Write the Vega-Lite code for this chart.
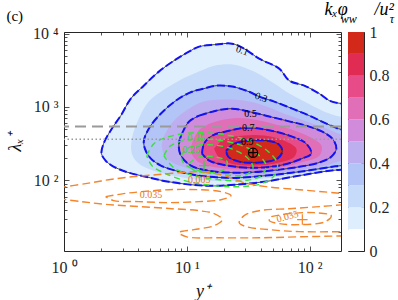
{
"$schema":"https://vega.github.io/schema/vega-lite/v6.json",
"autosize":{"type":"pad"},
"padding":{"left":5,"top":0,"right":0,"bottom":0},
"config":{"font":"Liberation Serif","view":{"stroke":"#262626","strokeWidth":1},
 "axis":{"labelFont":"Liberation Serif","titleFont":"Liberation Serif","labelColor":"#262626","titleColor":"#111","tickColor":"#262626","tickWidth":0.8,"domain":false,"grid":false,"labelFontSize":16,"titleFontWeight":"normal","titleFontStyle":"italic"}},
"datasets":{
"fills":[
{"lv":0.1,"i":0,"x":255,"y":1110},{"lv":0.1,"i":1,"x":185,"y":1110},{"lv":0.1,"i":2,"x":145,"y":1220},{"lv":0.1,"i":3,"x":120,"y":1520},{"lv":0.1,"i":4,"x":90.5,"y":1950},{"lv":0.1,"i":5,"x":68.3,"y":2280},{"lv":0.1,"i":6,"x":56.5,"y":3330},{"lv":0.1,"i":7,"x":38.8,"y":4550},{"lv":0.1,"i":8,"x":29.3,"y":6220},{"lv":0.1,"i":9,"x":23.4,"y":7280},{"lv":0.1,"i":10,"x":16.7,"y":7060},{"lv":0.1,"i":11,"x":12.6,"y":6630},{"lv":0.1,"i":12,"x":10.4,"y":5670},{"lv":0.1,"i":13,"x":7.85,"y":4270},{"lv":0.1,"i":14,"x":5.92,"y":3030},{"lv":0.1,"i":15,"x":4.46,"y":1950},{"lv":0.1,"i":16,"x":3.5,"y":1300},{"lv":0.1,"i":17,"x":2.9,"y":761},{"lv":0.1,"i":18,"x":2.45,"y":506},{"lv":0.1,"i":19,"x":2.1,"y":316},{"lv":0.1,"i":20,"x":2.02,"y":231},{"lv":0.1,"i":21,"x":2.18,"y":186},{"lv":0.1,"i":22,"x":2.45,"y":159},{"lv":0.1,"i":23,"x":3.18,"y":131},{"lv":0.1,"i":24,"x":4.63,"y":112},{"lv":0.1,"i":25,"x":7.14,"y":95.6},{"lv":0.1,"i":26,"x":13.8,"y":84.6},{"lv":0.1,"i":27,"x":24.3,"y":87},{"lv":0.1,"i":28,"x":42.6,"y":95.6},{"lv":0.1,"i":29,"x":82.4,"y":116},{"lv":0.1,"i":30,"x":145,"y":135},{"lv":0.1,"i":31,"x":185,"y":140},{"lv":0.1,"i":32,"x":255,"y":140},
{"lv":0.2,"i":0,"x":255,"y":732},{"lv":0.2,"i":1,"x":185,"y":732},{"lv":0.2,"i":2,"x":132,"y":863},{"lv":0.2,"i":3,"x":90.5,"y":1183},{"lv":0.2,"i":4,"x":68.3,"y":1520},{"lv":0.2,"i":5,"x":51.5,"y":2080},{"lv":0.2,"i":6,"x":35.3,"y":3030},{"lv":0.2,"i":7,"x":24.3,"y":3770},{"lv":0.2,"i":8,"x":16.7,"y":3650},{"lv":0.2,"i":9,"x":13.1,"y":3130},{"lv":0.2,"i":10,"x":8.62,"y":2280},{"lv":0.2,"i":11,"x":6.14,"y":1610},{"lv":0.2,"i":12,"x":4.9,"y":1183},{"lv":0.2,"i":13,"x":4.06,"y":693},{"lv":0.2,"i":14,"x":3.57,"y":370},{"lv":0.2,"i":15,"x":3.57,"y":231},{"lv":0.2,"i":16,"x":4.06,"y":169},{"lv":0.2,"i":17,"x":5.39,"y":135},{"lv":0.2,"i":18,"x":8.62,"y":112},{"lv":0.2,"i":19,"x":15.2,"y":99},{"lv":0.2,"i":20,"x":26.7,"y":99},{"lv":0.2,"i":21,"x":46.9,"y":108},{"lv":0.2,"i":22,"x":82.4,"y":123},{"lv":0.2,"i":23,"x":145,"y":140},{"lv":0.2,"i":24,"x":185,"y":144},{"lv":0.2,"i":25,"x":255,"y":144},
{"lv":0.3,"i":0,"x":255,"y":490},{"lv":0.3,"i":1,"x":185,"y":490},{"lv":0.3,"i":2,"x":137,"y":592},{"lv":0.3,"i":3,"x":99.5,"y":761},{"lv":0.3,"i":4,"x":72.3,"y":948},{"lv":0.3,"i":5,"x":51.5,"y":1183},{"lv":0.3,"i":6,"x":38.8,"y":1385},{"lv":0.3,"i":7,"x":32.2,"y":1610},{"lv":0.3,"i":8,"x":23.4,"y":1895},{"lv":0.3,"i":9,"x":17.3,"y":1950},{"lv":0.3,"i":10,"x":13.8,"y":1780},{"lv":0.3,"i":11,"x":11,"y":1610},{"lv":0.3,"i":12,"x":8.15,"y":1220},{"lv":0.3,"i":13,"x":5.92,"y":761},{"lv":0.3,"i":14,"x":4.9,"y":506},{"lv":0.3,"i":15,"x":4.46,"y":337},{"lv":0.3,"i":16,"x":4.63,"y":253},{"lv":0.3,"i":17,"x":5.1,"y":198},{"lv":0.3,"i":18,"x":6.14,"y":159},{"lv":0.3,"i":19,"x":8.15,"y":135},{"lv":0.3,"i":20,"x":12.6,"y":116},{"lv":0.3,"i":21,"x":23.4,"y":108},{"lv":0.3,"i":22,"x":44.2,"y":116},{"lv":0.3,"i":23,"x":82.4,"y":131},{"lv":0.3,"i":24,"x":153,"y":153},{"lv":0.3,"i":25,"x":185,"y":159},{"lv":0.3,"i":26,"x":255,"y":159},
{"lv":0.4,"i":0,"x":255,"y":420},{"lv":0.4,"i":1,"x":185,"y":420},{"lv":0.4,"i":2,"x":132,"y":521},{"lv":0.4,"i":3,"x":90.5,"y":651},{"lv":0.4,"i":4,"x":62.1,"y":811},{"lv":0.4,"i":5,"x":42.6,"y":1042},{"lv":0.4,"i":6,"x":29.3,"y":1220},{"lv":0.4,"i":7,"x":20.1,"y":1260},{"lv":0.4,"i":8,"x":13.8,"y":1183},{"lv":0.4,"i":9,"x":10.4,"y":948},{"lv":0.4,"i":10,"x":8.15,"y":693},{"lv":0.4,"i":11,"x":6.88,"y":475},{"lv":0.4,"i":12,"x":6.26,"y":316},{"lv":0.4,"i":13,"x":6.5,"y":231},{"lv":0.4,"i":14,"x":7.41,"y":180},{"lv":0.4,"i":15,"x":10.4,"y":144},{"lv":0.4,"i":16,"x":16.7,"y":123},{"lv":0.4,"i":17,"x":29.3,"y":116},{"lv":0.4,"i":18,"x":51.5,"y":123},{"lv":0.4,"i":19,"x":90.5,"y":140},{"lv":0.4,"i":20,"x":145,"y":164},{"lv":0.4,"i":21,"x":185,"y":186},{"lv":0.4,"i":22,"x":255,"y":186},
{"lv":0.5,"i":0,"x":12.6,"y":761},{"lv":0.5,"i":1,"x":17.3,"y":890},{"lv":0.5,"i":2,"x":23.4,"y":948},{"lv":0.5,"i":3,"x":32.2,"y":863},{"lv":0.5,"i":4,"x":44.2,"y":761},{"lv":0.5,"i":5,"x":64.5,"y":651},{"lv":0.5,"i":6,"x":93.9,"y":556},{"lv":0.5,"i":7,"x":127,"y":460},{"lv":0.5,"i":8,"x":153,"y":370},{"lv":0.5,"i":9,"x":165,"y":270},{"lv":0.5,"i":10,"x":150,"y":210},{"lv":0.5,"i":11,"x":120,"y":175},{"lv":0.5,"i":12,"x":82.4,"y":153},{"lv":0.5,"i":13,"x":46.9,"y":135},{"lv":0.5,"i":14,"x":26.7,"y":127},{"lv":0.5,"i":15,"x":15.2,"y":135},{"lv":0.5,"i":16,"x":10.8,"y":159},{"lv":0.5,"i":17,"x":8.95,"y":217},{"lv":0.5,"i":18,"x":8.62,"y":316},{"lv":0.5,"i":19,"x":9.29,"y":460},{"lv":0.5,"i":20,"x":10.4,"y":630},{"lv":0.5,"i":21,"x":12.6,"y":761},
{"lv":0.6,"i":0,"x":12.6,"y":490},{"lv":0.6,"i":1,"x":15.2,"y":592},{"lv":0.6,"i":2,"x":22.1,"y":693},{"lv":0.6,"i":3,"x":32.2,"y":693},{"lv":0.6,"i":4,"x":46.9,"y":610},{"lv":0.6,"i":5,"x":68.3,"y":506},{"lv":0.6,"i":6,"x":99.5,"y":394},{"lv":0.6,"i":7,"x":125,"y":297},{"lv":0.6,"i":8,"x":120,"y":217},{"lv":0.6,"i":9,"x":90.5,"y":180},{"lv":0.6,"i":10,"x":56.5,"y":148},{"lv":0.6,"i":11,"x":32.2,"y":140},{"lv":0.6,"i":12,"x":18.3,"y":148},{"lv":0.6,"i":13,"x":12.6,"y":175},{"lv":0.6,"i":14,"x":10.8,"y":246},{"lv":0.6,"i":15,"x":11.4,"y":370},{"lv":0.6,"i":16,"x":12.6,"y":490},
{"lv":0.7,"i":0,"x":13.3,"y":231},{"lv":0.7,"i":1,"x":13.8,"y":316},{"lv":0.7,"i":2,"x":16.1,"y":407},{"lv":0.7,"i":3,"x":22.1,"y":475},{"lv":0.7,"i":4,"x":31,"y":521},{"lv":0.7,"i":5,"x":44.2,"y":490},{"lv":0.7,"i":6,"x":68.3,"y":407},{"lv":0.7,"i":7,"x":93.9,"y":316},{"lv":0.7,"i":8,"x":103,"y":231},{"lv":0.7,"i":9,"x":86.5,"y":198},{"lv":0.7,"i":10,"x":62.1,"y":164},{"lv":0.7,"i":11,"x":35.3,"y":148},{"lv":0.7,"i":12,"x":21.3,"y":159},{"lv":0.7,"i":13,"x":15.2,"y":186},{"lv":0.7,"i":14,"x":13.3,"y":231},
{"lv":0.8,"i":0,"x":16.7,"y":270},{"lv":0.8,"i":1,"x":20.1,"y":359},{"lv":0.8,"i":2,"x":29.3,"y":407},{"lv":0.8,"i":3,"x":42.6,"y":407},{"lv":0.8,"i":4,"x":62.1,"y":347},{"lv":0.8,"i":5,"x":78,"y":270},{"lv":0.8,"i":6,"x":75,"y":210},{"lv":0.8,"i":7,"x":56.5,"y":175},{"lv":0.8,"i":8,"x":35.3,"y":159},{"lv":0.8,"i":9,"x":22.9,"y":169},{"lv":0.8,"i":10,"x":18.3,"y":204},{"lv":0.8,"i":11,"x":16.7,"y":270},
{"lv":0.9,"i":0,"x":20.9,"y":253},{"lv":0.9,"i":1,"x":24.3,"y":316},{"lv":0.9,"i":2,"x":32.2,"y":347},{"lv":0.9,"i":3,"x":45.2,"y":347},{"lv":0.9,"i":4,"x":56.5,"y":306},{"lv":0.9,"i":5,"x":59.8,"y":246},{"lv":0.9,"i":6,"x":54.6,"y":198},{"lv":0.9,"i":7,"x":38.8,"y":175},{"lv":0.9,"i":8,"x":26.7,"y":180},{"lv":0.9,"i":9,"x":21.7,"y":210},{"lv":0.9,"i":10,"x":20.9,"y":253}
],
"green":[
{"g":1,"i":0,"x":4.72,"y":217},{"g":1,"i":1,"x":5.39,"y":316},{"g":1,"i":2,"x":7.14,"y":394},{"g":1,"i":3,"x":11.4,"y":446},{"g":1,"i":4,"x":20.1,"y":420},{"g":1,"i":5,"x":32.2,"y":347},{"g":1,"i":6,"x":45.2,"y":253},{"g":1,"i":7,"x":54.6,"y":169},{"g":1,"i":8,"x":51.5,"y":116},{"g":1,"i":9,"x":40.3,"y":90.1},{"g":1,"i":10,"x":26.7,"y":82},{"g":1,"i":11,"x":16.7,"y":84.6},{"g":1,"i":12,"x":10.4,"y":95.6},{"g":1,"i":13,"x":6.75,"y":123},{"g":1,"i":14,"x":5.19,"y":159},{"g":1,"i":15,"x":4.72,"y":217},
{"g":2,"i":0,"x":6.5,"y":217},{"g":2,"i":1,"x":7.41,"y":297},{"g":2,"i":2,"x":10.4,"y":359},{"g":2,"i":3,"x":16.7,"y":359},{"g":2,"i":4,"x":26.7,"y":306},{"g":2,"i":5,"x":37.3,"y":231},{"g":2,"i":6,"x":44.2,"y":159},{"g":2,"i":7,"x":40.3,"y":116},{"g":2,"i":8,"x":29.3,"y":99},{"g":2,"i":9,"x":18.3,"y":102},{"g":2,"i":10,"x":11.4,"y":116},{"g":2,"i":11,"x":7.85,"y":148},{"g":2,"i":12,"x":6.5,"y":217},
{"g":3,"i":0,"x":8.95,"y":217},{"g":3,"i":1,"x":10.4,"y":279},{"g":3,"i":2,"x":15.2,"y":306},{"g":3,"i":3,"x":22.9,"y":270},{"g":3,"i":4,"x":31,"y":204},{"g":3,"i":5,"x":34.6,"y":148},{"g":3,"i":6,"x":29.9,"y":119},{"g":3,"i":7,"x":20.1,"y":119},{"g":3,"i":8,"x":12.6,"y":135},{"g":3,"i":9,"x":9.47,"y":169},{"g":3,"i":10,"x":8.95,"y":217},
{"g":4,"i":0,"x":10.4,"y":169},{"g":4,"i":1,"x":12.1,"y":204},{"g":4,"i":2,"x":16.7,"y":210},{"g":4,"i":3,"x":21.3,"y":180},{"g":4,"i":4,"x":20.1,"y":140},{"g":4,"i":5,"x":14.6,"y":127},{"g":4,"i":6,"x":11.2,"y":140},{"g":4,"i":7,"x":10.4,"y":169}
],
"orange":[
{"o":1,"i":0,"x":0.9,"y":79.4},{"o":1,"i":1,"x":1.5,"y":90.1},{"o":1,"i":2,"x":2.31,"y":102},{"o":1,"i":3,"x":3.57,"y":112},{"o":1,"i":4,"x":5.59,"y":119},{"o":1,"i":5,"x":8.62,"y":127},{"o":1,"i":6,"x":13.3,"y":131},{"o":1,"i":7,"x":20.1,"y":116},{"o":1,"i":8,"x":29.3,"y":93},{"o":1,"i":9,"x":44.2,"y":82},{"o":1,"i":10,"x":82.4,"y":74.6},{"o":1,"i":11,"x":190,"y":65.9},
{"o":2,"i":0,"x":0.9,"y":56.3},{"o":2,"i":1,"x":1.39,"y":51.3},{"o":2,"i":2,"x":2.31,"y":46.7},{"o":2,"i":3,"x":4.06,"y":43.9},{"o":2,"i":4,"x":7.56,"y":41.1},{"o":2,"i":5,"x":12.6,"y":38.6},{"o":2,"i":6,"x":16.7,"y":35.2},{"o":2,"i":7,"x":19.4,"y":29.2},{"o":2,"i":8,"x":16.7,"y":24.1},{"o":2,"i":9,"x":11.4,"y":21.3},{"o":2,"i":10,"x":8.62,"y":19.4},{"o":2,"i":11,"x":10,"y":17},{"o":2,"i":12,"x":18.3,"y":16.5},{"o":2,"i":13,"x":38.8,"y":16.5},{"o":2,"i":14,"x":82.4,"y":17},{"o":2,"i":15,"x":190,"y":17.5},
{"o":3,"i":0,"x":2.18,"y":60},{"o":3,"i":1,"x":3.06,"y":65.9},{"o":3,"i":2,"x":4.3,"y":70.2},{"o":3,"i":3,"x":7.14,"y":74.6},{"o":3,"i":4,"x":12.6,"y":74.6},{"o":3,"i":5,"x":19,"y":70.2},{"o":3,"i":6,"x":22.9,"y":62},{"o":3,"i":7,"x":19,"y":54.5},{"o":3,"i":8,"x":12.6,"y":51.3},{"o":3,"i":9,"x":7.14,"y":49.7},{"o":3,"i":10,"x":4.06,"y":51.3},{"o":3,"i":11,"x":2.54,"y":53},{"o":3,"i":12,"x":2.18,"y":60},
{"o":4,"i":0,"x":190,"y":46.7},{"o":4,"i":1,"x":120,"y":43.9},{"o":4,"i":2,"x":68.3,"y":41.1},{"o":4,"i":3,"x":38.8,"y":38.6},{"o":4,"i":4,"x":29.3,"y":33.1},{"o":4,"i":5,"x":26.7,"y":26.5},{"o":4,"i":6,"x":30.4,"y":23.4},{"o":4,"i":7,"x":46.9,"y":21.3},{"o":4,"i":8,"x":82.4,"y":20},{"o":4,"i":9,"x":190,"y":20},
{"o":5,"i":0,"x":48.7,"y":32.1},{"o":5,"i":1,"x":68.3,"y":35.2},{"o":5,"i":2,"x":109,"y":36.3},{"o":5,"i":3,"x":150,"y":33.1},{"o":5,"i":4,"x":134,"y":27.3},{"o":5,"i":5,"x":82.4,"y":24.9},{"o":5,"i":6,"x":56.5,"y":25.7},{"o":5,"i":7,"x":46.9,"y":28.3},{"o":5,"i":8,"x":48.7,"y":32.1}
],
"refs":[{"name":"dash","y":540},{"name":"dot","y":364}],
"labels":[
{"t":"0.1","x":28.2,"y":5840,"grp":"rot"},{"t":"0.3","x":40.3,"y":1340,"grp":"rot"},
{"t":"0.5","x":33,"y":811,"grp":"flat"},{"t":"0.7","x":31.6,"y":521,"grp":"flat"},{"t":"0.9","x":31,"y":337,"grp":"flat"},
{"t":"0.15","x":11.9,"y":380,"grp":"green"},{"t":"0.25","x":10.8,"y":262,"grp":"green"},
{"t":"0.005","x":12.6,"y":102,"grp":"orange"},{"t":"0.035","x":5.1,"y":64,"grp":"orange"},{"t":"0.035","x":66,"y":32,"grp":"orangerot"}
],
"markers":[{"kind":"peak","x":34.6,"y":238},{"kind":"green","x":13.8,"y":159},{"kind":"orange","x":87.2,"y":29.2}],
"cbar":[{"lo":0,"hi":0.1},{"lo":0.1,"hi":0.2},{"lo":0.2,"hi":0.3},{"lo":0.3,"hi":0.4},{"lo":0.4,"hi":0.5},{"lo":0.5,"hi":0.6},{"lo":0.6,"hi":0.7},{"lo":0.7,"hi":0.8},{"lo":0.8,"hi":0.9},{"lo":0.9,"hi":1}]
},
"hconcat":[
{
"width":277,"height":219,
"title":{"text":"(c)","anchor":"start","frame":"bounds","fontSize":15,"fontWeight":"normal","font":"Liberation Serif","offset":2,"color":"#000"},
"resolve":{"axis":{"x":"independent","y":"independent"}},
"layer":[
{"data":{"name":"fills"},"mark":{"type":"line","clip":true,"strokeOpacity":0,"interpolate":"catmull-rom"},
 "encoding":{
  "x":{"field":"x","type":"quantitative","scale":{"type":"log","domain":[1,180],"nice":false},
   "axis":{"orient":"bottom","values":[1,2,3,4,5,6,7,8,9,10,20,30,40,50,60,70,80,90,100],"labelExpr":"datum.value==1?'10 ⁰':datum.value==10?'10 ¹':datum.value==100?'10 ²':''","tickSize":{"condition":{"test":"datum.value==1||datum.value==10||datum.value==100","value":-5},"value":-3},"labelPadding":13,"labelOverlap":false,"labelFlush":false,"title":"y⁺","titleFontSize":18,"titlePadding":5}},
  "y":{"field":"y","type":"quantitative","scale":{"type":"log","domain":[10.9,10500],"nice":false},
   "axis":{"orient":"left","values":[20,30,40,50,60,70,80,90,100,200,300,400,500,600,700,800,900,1000,2000,3000,4000,5000,6000,7000,8000,9000,10000],"labelExpr":"datum.value==100?'10 ²':datum.value==1000?'10 ³':datum.value==10000?'10 ⁴':''","tickSize":{"condition":{"test":"datum.value==100||datum.value==1000||datum.value==10000","value":-5},"value":-3},"labelPadding":11,"labelOverlap":false,"title":"λₓ⁺","titleFontSize":18,"titlePadding":8}},
  "fill":{"field":"lv","type":"quantitative","legend":null,"scale":{"type":"threshold","domain":[0.1,0.2,0.3,0.4,0.5,0.6,0.7,0.8,0.9],"range":["#ffffff","#deeefd","#c5dbf9","#b3c4f6","#bdaef0","#d08cdb","#e06fb7","#e74c88","#e02b52","#d2291b"]}},
  "detail":{"field":"lv","type":"nominal"},
  "order":{"field":"i","type":"quantitative"}}},
{"data":{"name":"fills"},"transform":[{"filter":{"field":"lv","oneOf":[0.1,0.3,0.5,0.7,0.9]}}],
 "mark":{"type":"line","clip":true,"stroke":"#1a1a1a","strokeWidth":0.8,"interpolate":"catmull-rom"},
 "encoding":{"x":{"field":"x","type":"quantitative","scale":{"type":"log","domain":[1,180],"nice":false},"axis":null},
  "y":{"field":"y","type":"quantitative","scale":{"type":"log","domain":[10.9,10500],"nice":false},"axis":null},
  "detail":{"field":"lv","type":"nominal"},"order":{"field":"i","type":"quantitative"}}},
{"data":{"name":"fills"},"transform":[{"filter":{"field":"lv","oneOf":[0.1,0.3,0.5,0.7,0.9]}}],
 "mark":{"type":"line","clip":true,"stroke":"#1212f2","strokeWidth":2,"strokeDash":[8,3],"interpolate":"catmull-rom"},
 "encoding":{"x":{"field":"x","type":"quantitative","scale":{"type":"log","domain":[1,180],"nice":false},"axis":null},
  "y":{"field":"y","type":"quantitative","scale":{"type":"log","domain":[10.9,10500],"nice":false},"axis":null},
  "detail":{"field":"lv","type":"nominal"},"order":{"field":"i","type":"quantitative"}}},
{"data":{"name":"green"},
 "mark":{"type":"line","clip":true,"stroke":"#38e238","strokeWidth":1.4,"strokeDash":[6,4],"interpolate":"catmull-rom"},
 "encoding":{"x":{"field":"x","type":"quantitative","scale":{"type":"log","domain":[1,180],"nice":false},"axis":null},
  "y":{"field":"y","type":"quantitative","scale":{"type":"log","domain":[10.9,10500],"nice":false},"axis":null},
  "detail":{"field":"g","type":"nominal"},"order":{"field":"i","type":"quantitative"}}},
{"data":{"name":"orange"},
 "mark":{"type":"line","clip":true,"stroke":"#f5852b","strokeWidth":1.4,"strokeDash":[8,4],"interpolate":"catmull-rom"},
 "encoding":{"x":{"field":"x","type":"quantitative","scale":{"type":"log","domain":[1,180],"nice":false},"axis":null},
  "y":{"field":"y","type":"quantitative","scale":{"type":"log","domain":[10.9,10500],"nice":false},"axis":null},
  "detail":{"field":"o","type":"nominal"},"order":{"field":"i","type":"quantitative"}}},
{"data":{"name":"refs"},"transform":[{"filter":"datum.name=='dash'"}],
 "mark":{"type":"rule","stroke":"#9a9a9a","strokeWidth":2,"strokeDash":[11,6]},
 "encoding":{"y":{"field":"y","type":"quantitative","scale":{"type":"log","domain":[10.9,10500],"nice":false},"axis":null}}},
{"data":{"name":"refs"},"transform":[{"filter":"datum.name=='dot'"}],
 "mark":{"type":"rule","stroke":"#9a9a9a","strokeWidth":1.5,"strokeDash":[1.5,2.5]},
 "encoding":{"y":{"field":"y","type":"quantitative","scale":{"type":"log","domain":[10.9,10500],"nice":false},"axis":null}}},
{"data":{"name":"labels"},"transform":[{"filter":"datum.grp=='rot'"}],
 "mark":{"type":"text","font":"Liberation Serif","fontSize":10,"color":"#000","angle":20},
 "encoding":{"x":{"field":"x","type":"quantitative","scale":{"type":"log","domain":[1,180],"nice":false},"axis":null},
  "y":{"field":"y","type":"quantitative","scale":{"type":"log","domain":[10.9,10500],"nice":false},"axis":null},"text":{"field":"t"}}},
{"data":{"name":"labels"},"transform":[{"filter":"datum.grp=='flat'"}],
 "mark":{"type":"text","font":"Liberation Serif","fontSize":10,"color":"#000"},
 "encoding":{"x":{"field":"x","type":"quantitative","scale":{"type":"log","domain":[1,180],"nice":false},"axis":null},
  "y":{"field":"y","type":"quantitative","scale":{"type":"log","domain":[10.9,10500],"nice":false},"axis":null},"text":{"field":"t"}}},
{"data":{"name":"labels"},"transform":[{"filter":"datum.grp=='green'"}],
 "mark":{"type":"text","font":"Liberation Serif","fontSize":10,"color":"#2ed82e"},
 "encoding":{"x":{"field":"x","type":"quantitative","scale":{"type":"log","domain":[1,180],"nice":false},"axis":null},
  "y":{"field":"y","type":"quantitative","scale":{"type":"log","domain":[10.9,10500],"nice":false},"axis":null},"text":{"field":"t"}}},
{"data":{"name":"labels"},"transform":[{"filter":"datum.grp=='orange'"}],
 "mark":{"type":"text","font":"Liberation Serif","fontSize":10,"color":"#e8761e"},
 "encoding":{"x":{"field":"x","type":"quantitative","scale":{"type":"log","domain":[1,180],"nice":false},"axis":null},
  "y":{"field":"y","type":"quantitative","scale":{"type":"log","domain":[10.9,10500],"nice":false},"axis":null},"text":{"field":"t"}}},
{"data":{"name":"labels"},"transform":[{"filter":"datum.grp=='orangerot'"}],
 "mark":{"type":"text","font":"Liberation Serif","fontSize":10,"color":"#e8761e","angle":-15},
 "encoding":{"x":{"field":"x","type":"quantitative","scale":{"type":"log","domain":[1,180],"nice":false},"axis":null},
  "y":{"field":"y","type":"quantitative","scale":{"type":"log","domain":[10.9,10500],"nice":false},"axis":null},"text":{"field":"t"}}},
{"data":{"name":"markers"},
 "mark":{"type":"point","shape":"M-1,0L1,0M0,-1L0,1","filled":false,"strokeWidth":1.2,"opacity":1},
 "encoding":{"x":{"field":"x","type":"quantitative","scale":{"type":"log","domain":[1,180],"nice":false},"axis":null},
  "y":{"field":"y","type":"quantitative","scale":{"type":"log","domain":[10.9,10500],"nice":false},"axis":null},
  "stroke":{"field":"kind","type":"nominal","legend":null,"scale":{"domain":["peak","green","orange"],"range":["#000000","#2ed82e","#f5852b"]}},
  "size":{"field":"kind","type":"nominal","legend":null,"scale":{"domain":["peak","green","orange"],"range":[85,110,110]}}}},
{"data":{"name":"markers"},"transform":[{"filter":"datum.kind=='peak'"}],
 "mark":{"type":"point","shape":"circle","filled":false,"stroke":"#000","strokeWidth":1.2,"size":85,"opacity":1},
 "encoding":{"x":{"field":"x","type":"quantitative","scale":{"type":"log","domain":[1,180],"nice":false},
   "axis":{"orient":"top","values":[1,2,3,4,5,6,7,8,9,10,20,30,40,50,60,70,80,90,100],"labels":false,"title":null,"tickSize":{"condition":{"test":"datum.value==1||datum.value==10||datum.value==100","value":-5},"value":-3}}},
  "y":{"field":"y","type":"quantitative","scale":{"type":"log","domain":[10.9,10500],"nice":false},
   "axis":{"orient":"right","values":[20,30,40,50,60,70,80,90,100,200,300,400,500,600,700,800,900,1000,2000,3000,4000,5000,6000,7000,8000,9000,10000],"labels":false,"title":null,"tickSize":{"condition":{"test":"datum.value==100||datum.value==1000||datum.value==10000","value":-5},"value":-3}}}}}
]
},
{
"width":16,"height":219,
"title":{"text":"kₓφ\u00a0\u00a0\u00a0\u00a0\u00a0\u00a0/u²","subtitle":"ww\u00a0\u00a0\u00a0\u00a0\u00a0\u00a0\u00a0\u00a0\u00a0\u00a0\u00a0τ","anchor":"end","dx":5,"font":"Liberation Serif","fontStyle":"italic","fontWeight":"normal","fontSize":18,"subtitleFont":"Liberation Serif","subtitleFontStyle":"italic","subtitleFontSize":12,"subtitlePadding":-5,"offset":-1,"color":"#000","subtitleColor":"#000"},
"data":{"name":"cbar"},
"mark":{"type":"rect"},
"encoding":{
 "x":{"value":0},"x2":{"value":"width"},
 "y":{"field":"lo","type":"quantitative","scale":{"domain":[0,1],"nice":false,"zero":false},
  "axis":{"orient":"right","values":[0,0.2,0.4,0.6,0.8,1],"labelExpr":"''+datum.value","labelFontSize":16,"labelColor":"#262626","labelPadding":8,"tickSize":-3,"title":null}},
 "y2":{"field":"hi"},
 "fill":{"field":"lo","type":"quantitative","legend":null,"scale":{"type":"threshold","domain":[0.1,0.2,0.3,0.4,0.5,0.6,0.7,0.8,0.9],"range":["#ffffff","#deeefd","#c5dbf9","#b3c4f6","#bdaef0","#d08cdb","#e06fb7","#e74c88","#e02b52","#d2291b"]}}}
}
],
"spacing":7,
"bounds":"flush",
"resolve":{"scale":{"fill":"independent"}}
}
